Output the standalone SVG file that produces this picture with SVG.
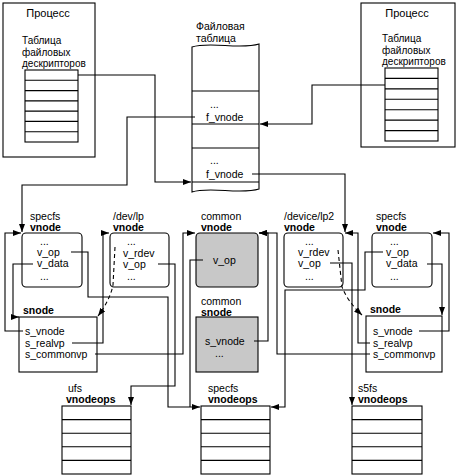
<svg xmlns="http://www.w3.org/2000/svg" width="457" height="476" viewBox="0 0 457 476">
<style>
text{font-family:"Liberation Sans",Arial,sans-serif;font-size:10.5px;fill:#000}
.b{font-weight:bold}
.s{font-size:10px}
.box{fill:#fff;stroke:#000;stroke-width:1.1}
.gray{fill:#c8c8c8;stroke:#000;stroke-width:1.1}
.ln{fill:none;stroke:#000;stroke-width:1.1}
.c{fill:none;stroke:#000;stroke-width:1.1}
.d{fill:none;stroke:#000;stroke-width:1.1;stroke-dasharray:4 3}
.m{text-anchor:middle}
</style>
<defs>
<marker id="ah" markerUnits="userSpaceOnUse" markerWidth="8" markerHeight="6" refX="8" refY="3" orient="auto">
<path d="M0,0 L8,3 L0,6 z" fill="#000"/>
</marker>
</defs>
<g id="proc-left">
<rect class="box" x="3" y="3" width="92" height="154"/>
<text class="m" x="48" y="17" style="font-size:11px">Процесс</text>
<text class="s" x="22" y="44">Таблица</text>
<text class="s" x="22" y="55.5">файловых</text>
<text class="s" x="22" y="67">дескрипторов</text>
<rect class="box" x="25" y="70" width="53" height="72"/>
<path class="ln" d="M25,80.3H78M25,90.6H78M25,100.9H78M25,111.1H78M25,121.4H78M25,131.7H78"/>
</g>
<g id="proc-right">
<rect class="box" x="361" y="3" width="94" height="144"/>
<text class="m" x="407" y="17" style="font-size:11px">Процесс</text>
<text class="s" x="382" y="42">Таблица</text>
<text class="s" x="382" y="53.5">файловых</text>
<text class="s" x="382" y="65">дескрипторов</text>
<rect class="box" x="385" y="68" width="53" height="73"/>
<path class="ln" d="M385,78.4H438M385,88.9H438M385,99.3H438M385,109.7H438M385,120.1H438M385,130.6H438"/>
</g>
<g id="file-table">
<text x="196" y="30">Файловая</text>
<text x="196" y="42">таблица</text>
<path class="box" d="M192,47 C210,41 240,50 259,44 V189 C240,195 210,186 192,192 Z"/>
<path class="ln" d="M192,91H259M192,124H259M192,148H259M192,182H259"/>
<text x="210" y="108">...</text>
<text x="206" y="121">f_vnode</text>
<text x="210" y="164">...</text>
<text x="206" y="178">f_vnode</text>
</g>
<g id="vnode-specfs-left">
<text x="30" y="220">specfs</text>
<text class="b" x="30" y="231">vnode</text>
<rect class="box" x="22" y="233" width="60" height="54" rx="4"/>
<text x="40" y="245">...</text>
<text x="37" y="256">v_op</text>
<text x="37" y="267">v_data</text>
<text x="40" y="280">...</text>
</g>
<g id="vnode-devlp">
<text x="113" y="220">/dev/lp</text>
<text class="b" x="113" y="231">vnode</text>
<rect class="box" x="110" y="233" width="59" height="54" rx="4"/>
<text x="127" y="245">...</text>
<text x="123" y="257">v_rdev</text>
<text x="123" y="268">v_op</text>
<text x="127" y="280">...</text>
</g>
<g id="vnode-common">
<text x="201" y="220">common</text>
<text class="b" x="201" y="231">vnode</text>
<rect class="gray" x="196" y="233" width="62" height="54" rx="4"/>
<text x="213" y="264">v_op</text>
</g>
<g id="vnode-lp2">
<text x="284" y="220">/device/lp2</text>
<text class="b" x="284" y="231">vnode</text>
<rect class="box" x="284" y="233" width="59" height="54" rx="4"/>
<text x="305" y="245">...</text>
<text x="298" y="256">v_rdev</text>
<text x="298" y="267">v_op</text>
<text x="305" y="280">...</text>
</g>
<g id="vnode-specfs-right">
<text x="376" y="220">specfs</text>
<text class="b" x="376" y="231">vnode</text>
<rect class="box" x="372" y="233" width="60" height="54" rx="4"/>
<text x="390" y="245">...</text>
<text x="386" y="256">v_op</text>
<text x="386" y="267">v_data</text>
<text x="390" y="280">...</text>
</g>
<g id="snode-left">
<text class="b" x="23" y="314">snode</text>
<rect class="box" x="19" y="317" width="78" height="55"/>
<text x="25" y="335">s_vnode</text>
<text x="25" y="347">s_realvp</text>
<text x="25" y="358">s_commonvp</text>
</g>
<g id="snode-common">
<text x="201" y="305">common</text>
<text class="b" x="201" y="316">snode</text>
<rect class="gray" x="196" y="317" width="62" height="55"/>
<text x="205" y="345">s_vnode</text>
<text x="215" y="357">...</text>
</g>
<g id="snode-right">
<text class="b" x="370" y="313">snode</text>
<rect class="box" x="366" y="316" width="76" height="56"/>
<text x="373" y="335">s_vnode</text>
<text x="373" y="347">s_realvp</text>
<text x="373" y="358">s_commonvp</text>
</g>
<g id="ops-ufs">
<text x="68" y="392">ufs</text>
<text class="b" x="66" y="403">vnodeops</text>
<rect class="box" x="62" y="406" width="69" height="68"/>
<path class="ln" d="M62,419.6H131M62,433.2H131M62,446.8H131M62,460.4H131"/>
</g>
<g id="ops-specfs">
<text x="208" y="392">specfs</text>
<text class="b" x="208" y="403">vnodeops</text>
<rect class="box" x="201" y="406" width="69" height="68"/>
<path class="ln" d="M201,419.6H270M201,433.2H270M201,446.8H270M201,460.4H270"/>
</g>
<g id="ops-s5fs">
<text x="358" y="392">s5fs</text>
<text class="b" x="358" y="403">vnodeops</text>
<rect class="box" x="352" y="406" width="70" height="68"/>
<path class="ln" d="M352,419.6H422M352,433.2H422M352,446.8H422M352,460.4H422"/>
</g>
<g id="connectors">
<path class="c" d="M78,75H155V182H191" marker-end="url(#ah)"/>
<path class="c" d="M385,85H312V124H260" marker-end="url(#ah)"/>
<path class="c" d="M195,117H127V185H22V232" marker-end="url(#ah)"/>
<path class="c" d="M252,174H345V232" marker-end="url(#ah)"/>
<path class="c" d="M23,331H5V233H21" marker-end="url(#ah)"/>
<path class="c" d="M33,264H13V317H19" marker-end="url(#ah)"/>
<path class="c" d="M71,252H88V297H168V407H200" marker-end="url(#ah)"/>
<path class="c" d="M203,260H190V407"/>
<path class="d" d="M115,247L113,285Q110,300 98,316" marker-end="url(#ah)"/>
<path class="c" d="M72,343H103V233H109" marker-end="url(#ah)"/>
<path class="c" d="M158,264H175V386H131V405" marker-end="url(#ah)"/>
<path class="c" d="M95,354H183V233H195" marker-end="url(#ah)"/>
<path class="c" d="M254,341H268V233H259" marker-end="url(#ah)"/>
<path class="c" d="M370,354H277V233H259" marker-end="url(#ah)"/>
<path class="c" d="M383,252H365V290H285V407H271" marker-end="url(#ah)"/>
<path class="c" d="M330,263H352V405" marker-end="url(#ah)"/>
<path class="d" d="M338,250L342,287Q348,302 362,315" marker-end="url(#ah)"/>
<path class="c" d="M370,343H358V233H345" marker-end="url(#ah)"/>
<path class="c" d="M427,264H442V315" marker-end="url(#ah)"/>
<path class="c" d="M419,331H449V233H433" marker-end="url(#ah)"/>
</g>
</svg>
